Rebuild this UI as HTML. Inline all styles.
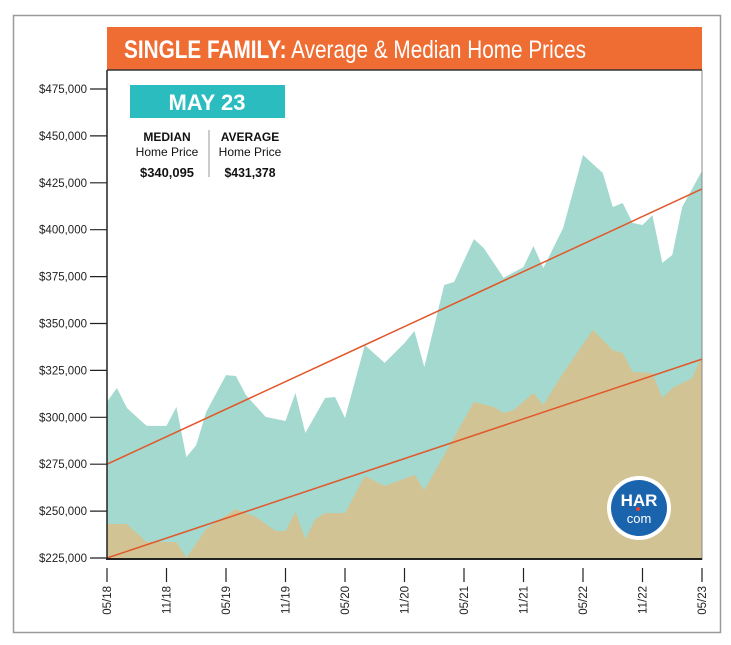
<!DOCTYPE html>
<html><head><meta charset="utf-8"><style>
body{margin:0;background:#fff;width:731px;height:640px;overflow:hidden;font-family:"Liberation Sans",sans-serif}
svg text{font-family:"Liberation Sans",sans-serif}
</style></head><body>
<svg id="chart" width="731" height="640" xmlns="http://www.w3.org/2000/svg">
<rect x="13.5" y="15.5" width="707" height="617" fill="#fff" stroke="#9a9a9a" stroke-width="1.5"/>
<g id="plot"></g>
<rect x="107" y="27" width="595" height="43" fill="#ef6c33"/>
<line x1="107" y1="70" x2="702" y2="70" stroke="#333" stroke-width="1.5"/>
<text x="124" y="58" fill="#fff" font-size="25" style="font-family:'Liberation Sans Narrow','Liberation Sans',sans-serif" textLength="462" lengthAdjust="spacingAndGlyphs"><tspan font-weight="bold">SINGLE FAMILY:</tspan> Average &amp; Median Home Prices</text>
<rect x="130" y="85" width="155" height="33" fill="#2bbcbf"/>
<text x="207" y="110" fill="#fff" font-size="22" font-weight="bold" text-anchor="middle">MAY 23</text>
<g text-anchor="middle" fill="#111">
<text x="167" y="141" font-size="12" font-weight="bold">MEDIAN</text>
<text x="167" y="156" font-size="12">Home Price</text>
<text x="167" y="177" font-size="13" font-weight="bold" textLength="54" lengthAdjust="spacingAndGlyphs">$340,095</text>
</g>
<line x1="209" y1="130" x2="209" y2="177" stroke="#999" stroke-width="1"/>
<g text-anchor="middle" fill="#111">
<text x="250" y="141" font-size="12" font-weight="bold">AVERAGE</text>
<text x="250" y="156" font-size="12">Home Price</text>
<text x="250" y="177" font-size="13" font-weight="bold" textLength="51" lengthAdjust="spacingAndGlyphs">$431,378</text>
</g>
<g>
<circle cx="639" cy="508" r="32" fill="#fff"/>
<circle cx="639" cy="508" r="28" fill="#1a63ad"/>
<text x="639" y="506" fill="#fff" font-size="17" font-weight="bold" text-anchor="middle">HAR</text>
<text x="639" y="523" fill="#fff" font-size="13" text-anchor="middle">com</text>
<circle cx="638" cy="509" r="2" fill="#e0403a"/>
</g>
</svg>
<script>
const yTicks=[225000,250000,275000,300000,325000,350000,375000,400000,425000,450000,475000];
const xTickMonths=[0,6,12,18,24,30,36,42,48,54,60];
const xTickLabels=["05/18","11/18","05/19","11/19","05/20","11/20","05/21","11/21","05/22","11/22","05/23"];
const avgMonths=[0,1,2,4,6,7,8,9,10,12,13,14,16,18,19,20,22,23,24,26,28,30,31,32,34,35,37,38,40,42,43,44,46,48,50,51,52,53,54,55,56,57,58,60];
const avgValues=[308200,315600,305000,295400,295400,305500,278800,285200,302800,322500,322000,311900,300200,298000,313000,291600,310300,310800,299600,338500,329000,339600,346000,326800,370500,372100,395000,390200,374300,380100,391300,379600,400900,439800,430200,412100,414200,403600,402500,407800,382300,386500,412100,431378];
const medMonths=[0,2,4,7,8,10,13,15,17,18,19,20,21,22,24,26,28,31,32,34,37,39,40,41,43,44,46,49,51,52,53,55,56,57,59,60];
const medValues=[243100,243100,233500,233500,225000,240500,251100,246900,239400,239400,249500,235100,245700,249000,249000,268700,263400,269300,261200,279900,308200,305500,302300,303900,313000,306600,323700,346600,335900,334300,324200,323700,310300,315600,320900,333000];
const avgTrend=[275000,421700];
const medTrend=[225000,331000];
const X0=107,X1=702,Y0=558,Y1=89;
const x=m=>X0+(X1-X0)*m/60;
const y=v=>Y0-(v-225000)/250000*(Y0-Y1);
const NS="http://www.w3.org/2000/svg";
const plot=document.getElementById('plot');
function mk(t,a){const e=document.createElementNS(NS,t);for(const k in a)e.setAttribute(k,a[k]);plot.appendChild(e);return e;}
function area(ms,vs,fill,name){let d=`M${x(ms[0])},${Y0}`;ms.forEach((m,i)=>d+=`L${x(m)},${y(vs[i])}`);d+=`L${x(ms[ms.length-1])},${Y0}Z`;const p=mk('path',{d:d,fill:fill});

}
area(avgMonths,avgValues,'#a3d9cf','average-price-area');
area(medMonths,medValues,'#d2c394','median-price-area');
const t1=mk('line',{x1:x(0),y1:y(avgTrend[0]),x2:x(60),y2:y(avgTrend[1]),stroke:'#e2572a','stroke-width':1.5});


const t2=mk('line',{x1:x(0),y1:y(medTrend[0]),x2:x(60),y2:y(medTrend[1]),stroke:'#e2572a','stroke-width':1.5});


mk('line',{x1:X0,y1:70,x2:X0,y2:Y0+2,stroke:'#222','stroke-width':1.5});
mk('line',{x1:X1,y1:70,x2:X1,y2:Y0+2,stroke:'#888','stroke-width':1});
mk('line',{x1:X0-1,y1:Y0+1,x2:X1,y2:Y0+1,stroke:'#222','stroke-width':2});
yTicks.forEach(v=>{
mk('line',{x1:90,y1:y(v),x2:X0,y2:y(v),stroke:'#222','stroke-width':1.2});
const t=mk('text',{x:87,y:y(v)+4,'font-size':11.5,'text-anchor':'end',fill:'#222'});t.textContent='$'+v.toLocaleString('en-US');


});
xTickMonths.forEach((m,i)=>{
mk('line',{x1:x(m),y1:568,x2:x(m),y2:582,stroke:'#222','stroke-width':1.2});
const t=mk('text',{x:0,y:0,'font-size':11.5,'text-anchor':'end',fill:'#222',transform:`translate(${x(m)+4},586) rotate(-90)`});t.textContent=xTickLabels[i];


});
</script>
</body></html>
